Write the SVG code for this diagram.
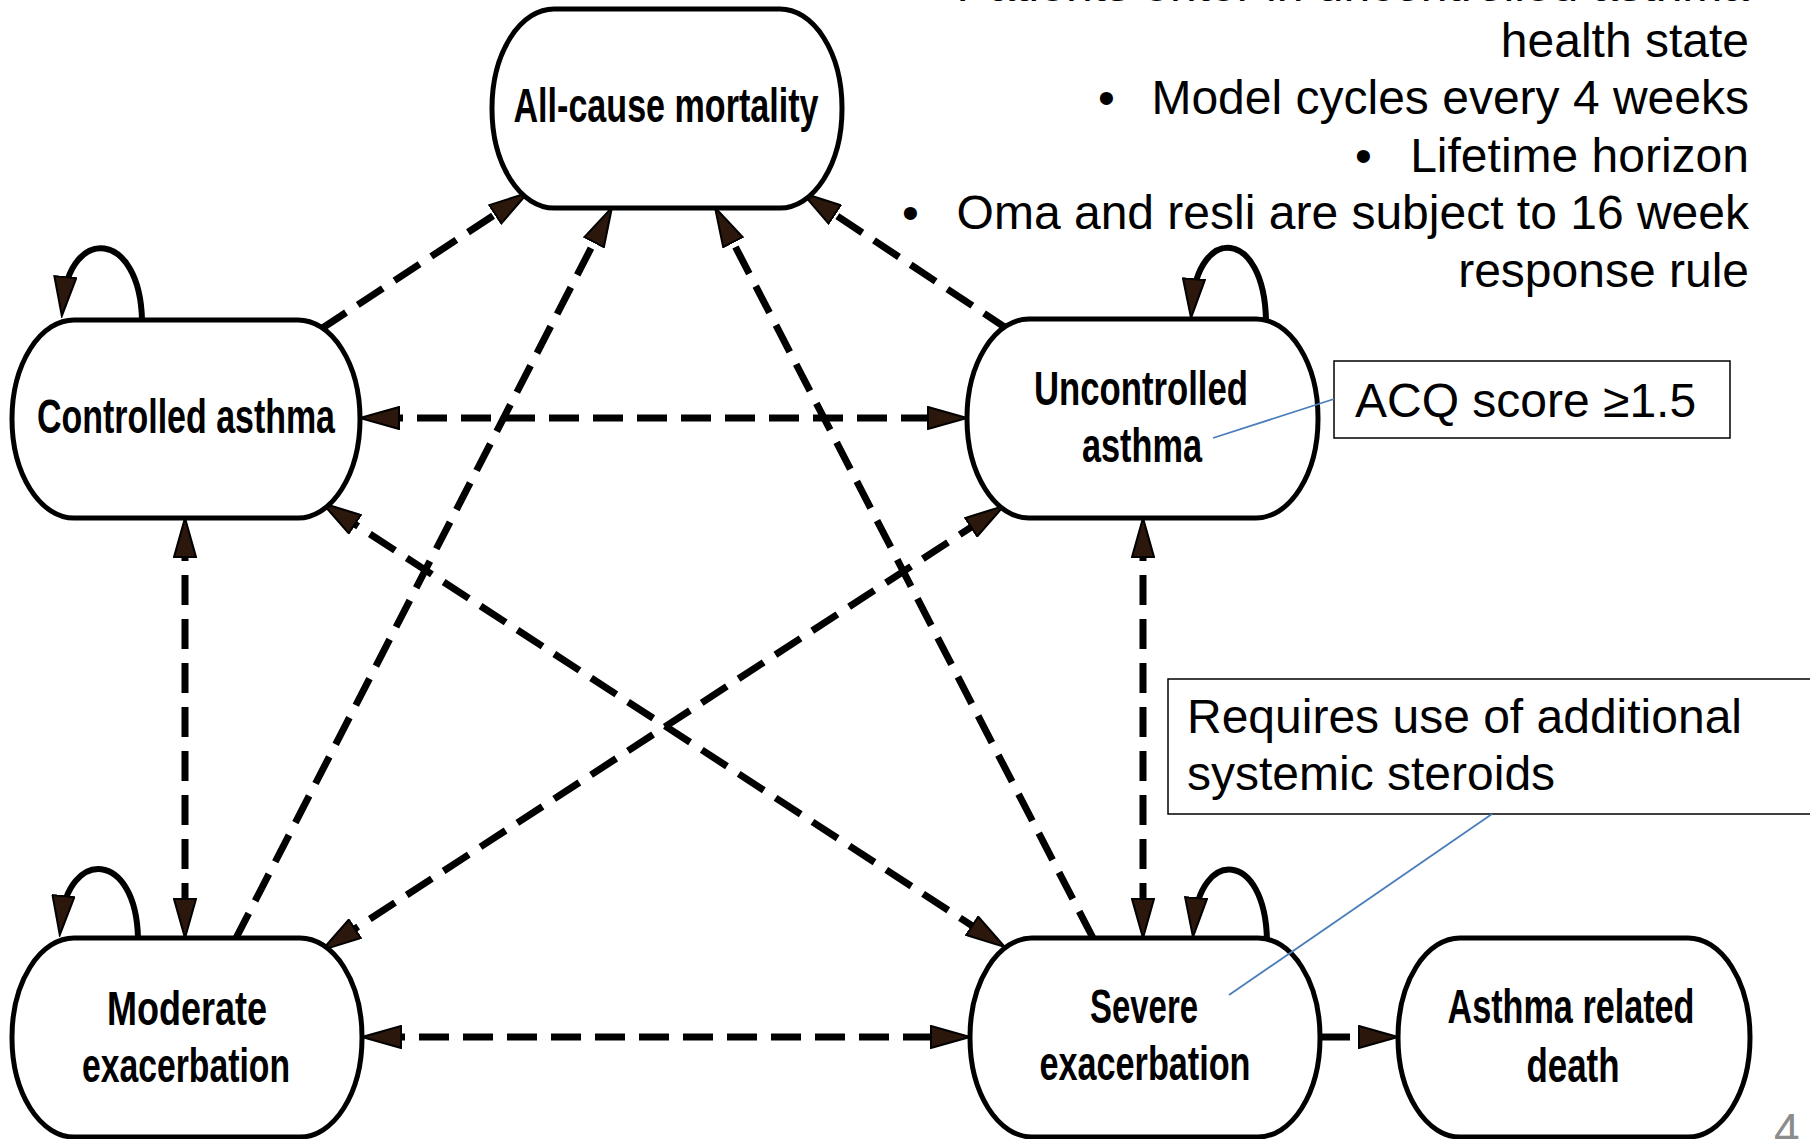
<svg xmlns="http://www.w3.org/2000/svg" width="1810" height="1139" viewBox="0 0 1810 1139">
<style>
.node rect{fill:#fff;stroke:#000;stroke-width:5}
.nt{font-family:"Liberation Sans",Arial,sans-serif;font-weight:bold;font-size:48px;text-anchor:middle;fill:#000}
.conn{fill:none;stroke:#000;stroke-width:7;stroke-dasharray:30 14}
.loop{fill:none;stroke:#000;stroke-width:6}
.body{font-family:"Liberation Sans",Arial,sans-serif;font-size:48px;fill:#000}
.r{text-anchor:end}
.box{fill:#fff;stroke:#000;stroke-width:1.5}
.call{stroke:#4a7ebb;stroke-width:1.8;fill:none}
</style>
<defs>
<marker id="ah" markerUnits="userSpaceOnUse" markerWidth="42" markerHeight="24" refX="27" refY="12" orient="auto-start-reverse" viewBox="0 0 42 24">
<path d="M1,1 L40,12 L1,23 Z" fill="#2b170b" stroke="#000" stroke-width="2"/>
</marker>
</defs>

<g id="bullets-text">
<text class="body r" x="1749" y="1">Patients enter in uncontrolled asthma</text>
<text class="body r" x="1749" y="57">health state</text>
<text class="body" x="1098" y="114">•</text>
<text class="body r" x="1749" y="114">Model cycles every 4 weeks</text>
<text class="body" x="1355" y="172">•</text>
<text class="body r" x="1749" y="172">Lifetime horizon</text>
<text class="body" x="902" y="229">•</text>
<text class="body r" x="1749" y="229">Oma and resli are subject to 16 week</text>
<text class="body r" x="1749" y="287">response rule</text>
</g>

<g id="connectors">
<line class="conn" x1="373" y1="418" x2="954" y2="418" marker-start="url(#ah)" marker-end="url(#ah)"/>
<line class="conn" x1="321" y1="329" x2="517" y2="200" marker-end="url(#ah)"/>
<line class="conn" x1="1009" y1="330" x2="813" y2="200" marker-end="url(#ah)"/>
<line class="conn" x1="235" y1="940" x2="606" y2="219" marker-end="url(#ah)"/>
<line class="conn" x1="1093" y1="938" x2="721" y2="219" marker-end="url(#ah)"/>
<line class="conn" x1="185" y1="531" x2="185" y2="925" marker-start="url(#ah)" marker-end="url(#ah)"/>
<line class="conn" x1="1143" y1="531" x2="1143" y2="925" marker-start="url(#ah)" marker-end="url(#ah)"/>
<line class="conn" x1="375" y1="1037" x2="957" y2="1037" marker-start="url(#ah)" marker-end="url(#ah)"/>
<line class="conn" x1="333" y1="510" x2="994" y2="940" marker-start="url(#ah)" marker-end="url(#ah)"/>
<line class="conn" x1="333" y1="943" x2="993" y2="513" marker-start="url(#ah)" marker-end="url(#ah)"/>
<line class="conn" x1="1320" y1="1037" x2="1385" y2="1037" marker-end="url(#ah)"/>
<path class="loop" d="M142,320 C140,230 70,225 63,303" marker-end="url(#ah)"/>
<path class="loop" d="M1266,320 C1264,228 1198,225 1192,305" marker-end="url(#ah)"/>
<path class="loop" d="M138,938 C136,850 68,848 61,922" marker-end="url(#ah)"/>
<path class="loop" d="M1267,940 C1265,850 1200,848 1194,924" marker-end="url(#ah)"/>
</g>

<g id="node-mortality" class="node">
<rect x="492" y="9" width="350" height="199" rx="62" ry="99"/>
<text class="nt" x="666" y="122" textLength="305" lengthAdjust="spacingAndGlyphs">All-cause mortality</text>
</g>
<g id="node-controlled" class="node">
<rect x="12" y="320" width="348" height="198" rx="62" ry="99"/>
<text class="nt" x="186" y="433" textLength="298" lengthAdjust="spacingAndGlyphs">Controlled asthma</text>
</g>
<g id="node-uncontrolled" class="node">
<rect x="967" y="319" width="351" height="199" rx="62" ry="99"/>
<text class="nt" x="1141" y="405" textLength="214" lengthAdjust="spacingAndGlyphs">Uncontrolled</text>
<text class="nt" x="1142" y="462" textLength="120" lengthAdjust="spacingAndGlyphs">asthma</text>
</g>
<g id="node-moderate" class="node">
<rect x="12" y="938" width="350" height="199" rx="62" ry="99"/>
<text class="nt" x="187" y="1025" textLength="160" lengthAdjust="spacingAndGlyphs">Moderate</text>
<text class="nt" x="186" y="1082" textLength="208" lengthAdjust="spacingAndGlyphs">exacerbation</text>
</g>
<g id="node-severe" class="node">
<rect x="970" y="938" width="350" height="199" rx="62" ry="99"/>
<text class="nt" x="1144" y="1023" textLength="108" lengthAdjust="spacingAndGlyphs">Severe</text>
<text class="nt" x="1145" y="1080" textLength="211" lengthAdjust="spacingAndGlyphs">exacerbation</text>
</g>
<g id="node-death" class="node">
<rect x="1398" y="938" width="352" height="199" rx="62" ry="99"/>
<text class="nt" x="1571" y="1023" textLength="247" lengthAdjust="spacingAndGlyphs">Asthma related</text>
<text class="nt" x="1573" y="1082" textLength="93" lengthAdjust="spacingAndGlyphs">death</text>
</g>

<g id="callout-acq">
<rect class="box" x="1334" y="361" width="396" height="77"/>
<text class="body" x="1355" y="417">ACQ score ≥1.5</text>
<line class="call" x1="1213" y1="438" x2="1334" y2="399"/>
</g>
<g id="callout-steroids">
<rect class="box" x="1168" y="679" width="700" height="135"/>
<text class="body" x="1187" y="733">Requires use of additional</text>
<text class="body" x="1187" y="790">systemic steroids</text>
<line class="call" x1="1229" y1="995" x2="1492" y2="814"/>
</g>
<text x="1774" y="1146" style="font-family:'Liberation Sans',Arial,sans-serif;font-size:46px;fill:#8c8c8c">4</text>
</svg>
